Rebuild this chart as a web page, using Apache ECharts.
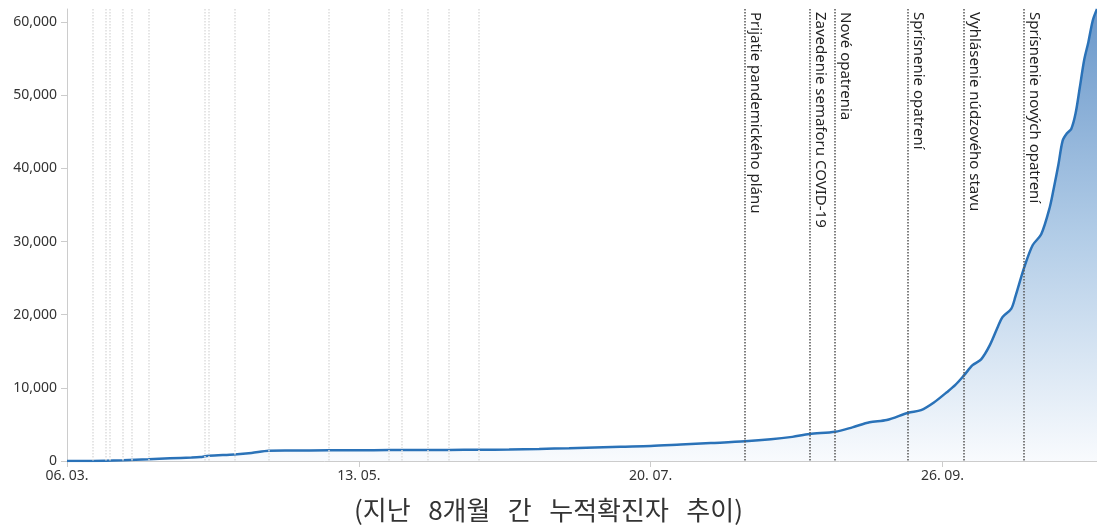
<!DOCTYPE html>
<html>
<head>
<meta charset="utf-8">
<script src="https://cdn.jsdelivr.net/npm/echarts@6/dist/echarts.min.js"></script>
<style>
html,body{margin:0;padding:0;background:#fff;}
#chart{width:1097px;height:528px;}
</style>
</head>
<body>
<div id="chart"></div>
<script>
// ---- data ----
const startDate = '2020-03-06';
const endDate = '2020-11-01';
const dates = ['2020-03-06','2020-03-12','2020-03-19','2020-03-25','2020-03-30','2020-04-04','2020-04-06','2020-04-08','2020-04-14','2020-04-18','2020-04-22','2020-04-27','2020-05-06','2020-05-13','2020-05-20','2020-05-27','2020-06-03','2020-06-10','2020-06-17','2020-06-24','2020-07-01','2020-07-13','2020-07-20','2020-07-27','2020-08-03','2020-08-11','2020-08-17','2020-08-22','2020-08-26','2020-09-01','2020-09-05','2020-09-09','2020-09-13','2020-09-18','2020-09-21','2020-09-24','2020-09-27','2020-09-29','2020-10-01','2020-10-03','2020-10-05','2020-10-07','2020-10-09','2020-10-10','2020-10-12','2020-10-13','2020-10-15','2020-10-17','2020-10-19','2020-10-21','2020-10-22','2020-10-23','2020-10-24','2020-10-25','2020-10-26','2020-10-27','2020-10-28','2020-10-29','2020-10-30','2020-10-31','2020-11-01'];
const cases = [1,10,100,230,370,470,540,720,900,1100,1400,1430,1455,1470,1500,1510,1520,1540,1570,1650,1750,1950,2050,2250,2450,2690,2960,3300,3690,4000,4600,5300,5600,6600,6950,8000,9400,10400,11700,13100,13900,15800,18500,19700,20800,22500,26400,29500,31000,34700,37500,40500,43800,44800,45400,47500,51100,54800,57300,60200,61800];
const eventDates = ['2020-08-11','2020-08-26','2020-09-01','2020-09-18','2020-10-01','2020-10-15'];
const eventNames = ['Prijatie pandemického plánu','Zavedenie semaforu COVID-19','Nové opatrenia','Sprísnenie opatrení','Vyhlásenie núdzového stavu','Sprísnenie nových opatrení'];
const minorDates = ['2020-03-12','2020-03-15','2020-03-16','2020-03-19','2020-03-21','2020-03-25','2020-04-07','2020-04-08','2020-04-14','2020-04-22','2020-05-06','2020-05-20','2020-05-23','2020-05-29','2020-06-03','2020-06-10'];
const xTickStep = 68; // days between x labels
const yMax = 61800;
const yStep = 10000;
const caption = '(지난   8개월   간   누적확진자   추이)';

// ---- helpers ----
const DAY = 86400000;
const t0 = Date.parse(startDate + 'T00:00:00Z');
const dayIndex = s => Math.round((Date.parse(s + 'T00:00:00Z') - t0) / DAY);
const pad = n => (n < 10 ? '0' : '') + n;
const fmtDay = v => { const d = new Date(t0 + v * DAY); return pad(d.getUTCDate()) + '. ' + pad(d.getUTCMonth() + 1) + '.'; };

const seriesData = dates.map((d, i) => [dayIndex(d), cases[i]]);
const eventLines = eventDates.map((d, i) => [
  { coord: [dayIndex(d), yMax], name: eventNames[i] },
  { coord: [dayIndex(d), 0] }
]);
const minorLines = minorDates.map(d => [
  { coord: [dayIndex(d), yMax] },
  { coord: [dayIndex(d), 0] }
]);

const chart = echarts.init(document.getElementById('chart'), null, { renderer: 'canvas' });
chart.setOption({
  animation: false,
  title: {
    text: caption,
    left: 'center',
    bottom: 0,
    textStyle: { fontFamily: 'Noto Sans CJK KR', fontSize: 26, fontWeight: 'normal', color: '#333' }
  },
  grid: { left: 67, right: 0, top: 9, bottom: 67 },
  xAxis: {
    type: 'value',
    min: 0,
    max: dayIndex(endDate),
    interval: xTickStep,
    splitLine: { show: false },
    axisLine: { lineStyle: { color: '#cccccc', width: 1 } },
    axisTick: { show: true, length: 6, lineStyle: { color: '#cccccc' } },
    axisLabel: {
      showMaxLabel: false,
      formatter: fmtDay,
      color: '#333',
      fontFamily: 'Noto Sans',
      fontSize: 14,
      margin: 8
    }
  },
  yAxis: {
    type: 'value',
    min: 0,
    max: yMax,
    interval: yStep,
    splitLine: { show: false },
    axisLine: { show: true, lineStyle: { color: '#cccccc', width: 1 } },
    axisTick: { show: true, length: 6, lineStyle: { color: '#cccccc' } },
    axisLabel: {
      showMaxLabel: false,
      formatter: v => v.toLocaleString('en-US'),
      color: '#333',
      fontFamily: 'Noto Sans',
      fontSize: 14,
      margin: 10
    }
  },
  series: [
    {
      type: 'line',
      name: 'minor',
      data: [],
      silent: true,
      markLine: {
        silent: true,
        symbol: 'none',
        label: { show: false },
        lineStyle: { color: '#dddddd', type: 'dotted', width: 1.5 },
        data: minorLines
      }
    },
    {
      type: 'line',
      name: 'cases',
      data: seriesData,
      smooth: 0.3,
      showSymbol: false,
      lineStyle: { color: '#2a72b8', width: 2.5 },
      areaStyle: {
        color: new echarts.graphic.LinearGradient(0, 0, 0, 1, [
          { offset: 0, color: '#2a6bb3' },
          { offset: 0.5, color: '#90b6dc' },
          { offset: 1, color: '#f5f8fc' }
        ])
      },
      markLine: {
        silent: true,
        symbol: 'none',
        lineStyle: { color: '#555555', type: 'dotted', width: 1.5 },
        label: {
          show: true,
          position: 'insideStartTop',
          formatter: '{b}',
          color: '#222',
          fontFamily: 'Noto Sans',
          fontSize: 15,
          distance: 3
        },
        data: eventLines
      }
    }
  ]
});
</script>
</body>
</html>
